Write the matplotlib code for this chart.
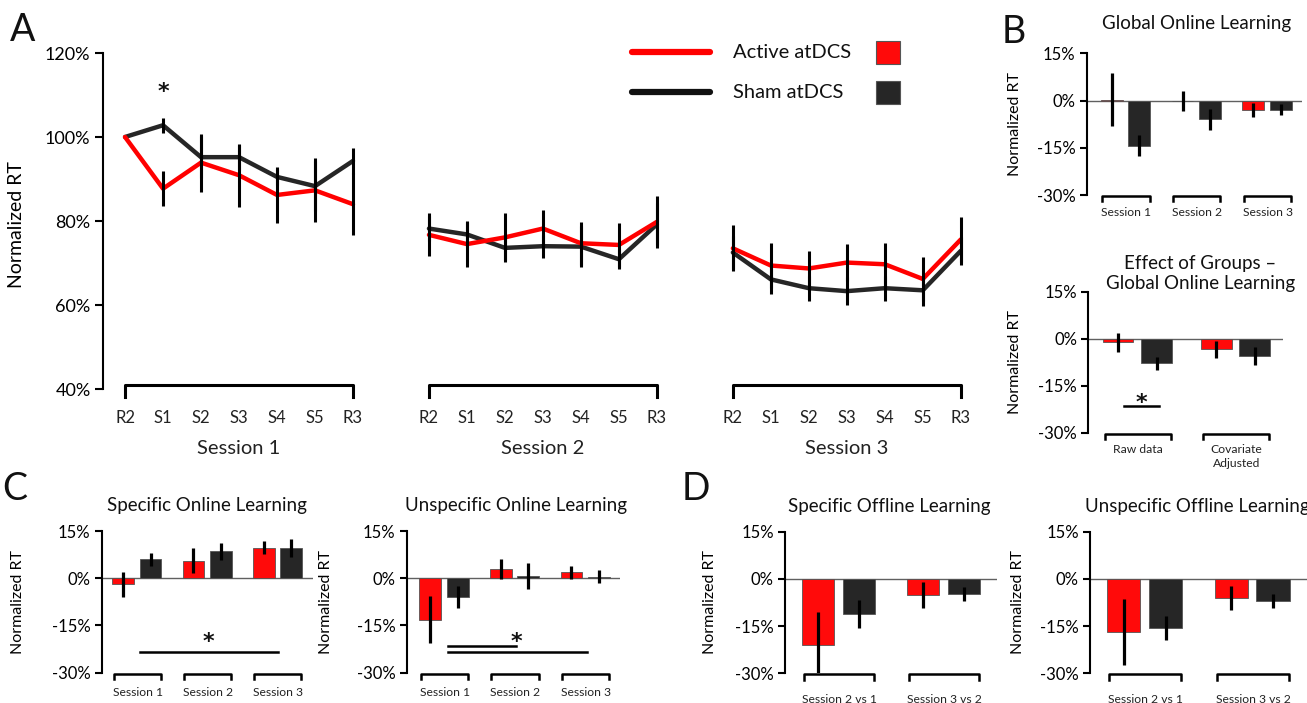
import numpy as np
import matplotlib
matplotlib.use("Agg")
import matplotlib.pyplot as plt
import matplotlib.transforms as mtransforms

plt.rcParams['font.family'] = ['Lato', 'DejaVu Sans']

RED = '#ff0000'
DARK = '#262626'

# ---- Panel A data (normalized RT, %) ----
points = ['R2', 'S1', 'S2', 'S3', 'S4', 'S5', 'R3']
sessions = ['Session 1', 'Session 2', 'Session 3']

active_s1 = [100, 87.7, 93.9, 90.9, 86.2, 87.3, 84.0]
sham_s1 = [100, 102.8, 95.2, 95.2, 90.5, 88.3, 94.3]
active_s1_err = [0, 4.2, 6.9, 7.5, 6.7, 7.6, 7.4]
sham_s1_err = [0, 1.8, 5.0, 3.0, 2.0, 6.0, 3.2]

active_s2 = [76.7, 74.5, 76.1, 78.2, 74.7, 74.3, 79.8]
sham_s2 = [78.2, 76.8, 73.6, 74.0, 73.9, 70.9, 79.2]
active_s2_err = [5.1, 5.5, 5.8, 4.4, 5.1, 5.3, 6.2]
sham_s2_err = [3.0, 3.0, 3.0, 2.7, 4.9, 2.4, 5.0]

active_s3 = [73.5, 69.4, 68.7, 70.1, 69.7, 66.2, 75.6]
sham_s3 = [72.5, 66.1, 64.0, 63.3, 64.0, 63.5, 72.9]
active_s3_err = [5.5, 5.4, 4.2, 4.4, 5.1, 5.3, 5.4]
sham_s3_err = [4.0, 3.5, 3.0, 3.3, 3.0, 3.7, 3.4]

# ---- Panel B data ----
glob_groups = ['Session 1', 'Session 2', 'Session 3']
glob_active = [0.3, -0.1, -3.0]
glob_active_err = [8.4, 3.2, 2.2]
glob_sham = [-14.3, -6.0, -2.9]
glob_sham_err = [3.3, 3.3, 1.75]

eff_groups = ['Raw data', 'Covariate\nAdjusted']
eff_active = [-1.2, -3.3]
eff_active_err = [3.0, 2.7]
eff_sham = [-7.8, -5.4]
eff_sham_err = [2.1, 2.9]

# ---- Panel C data ----
spec_on_active = [-1.9, 5.6, 9.7]
spec_on_active_err = [4.0, 4.0, 2.1]
spec_on_sham = [6.0, 8.5, 9.7]
spec_on_sham_err = [2.1, 2.65, 2.9]

unspec_on_active = [-13.2, 3.0, 1.9]
unspec_on_active_err = [7.4, 3.1, 2.1]
unspec_on_sham = [-6.0, 0.7, 0.5]
unspec_on_sham_err = [3.4, 4.0, 2.0]

# ---- Panel D data ----
off_groups = ['Session 2 vs 1', 'Session 3 vs 2']
spec_off_active = [-20.9, -5.1]
spec_off_active_err = [10.3, 4.2]
spec_off_sham = [-11.1, -4.8]
spec_off_sham_err = [4.5, 2.3]

unspec_off_active = [-16.9, -6.1]
unspec_off_active_err = [10.4, 3.9]
unspec_off_sham = [-15.6, -6.9]
unspec_off_sham_err = [3.9, 2.2]

fig = plt.figure(figsize=(13.07, 7.03), dpi=100)


def star(ax, x, y):
    ax.text(x, y, '*', ha='center', va='center', fontsize=16, fontweight='bold',
            family='DejaVu Sans', color='#111111')


def bar_panel(rect, groups, act, act_err, sham, sham_err, xlim, title, title_x, title_y,
              ylab_x, label_y, label_size=8.7):
    ax = fig.add_axes(rect)
    x = np.arange(len(groups))
    off, w = 0.195, 0.31
    ax.bar(x - off, act, w, color='#ff0a0a', edgecolor='#555555', linewidth=0.6, zorder=2)
    ax.bar(x + off, sham, w, color=DARK, edgecolor='#555555', linewidth=0.6, zorder=2)
    ax.errorbar(x - off, act, yerr=act_err, fmt='none', ecolor='black', elinewidth=2.3, capsize=0, zorder=3)
    ax.errorbar(x + off, sham, yerr=sham_err, fmt='none', ecolor='black', elinewidth=2.3, capsize=0, zorder=3)
    ax.axhline(0, color='#606060', lw=1, zorder=1)
    ax.set_xlim(xlim)
    ax.set_ylim(-30, 15)
    ax.set_yticks([15, 0, -15, -30])
    ax.set_yticklabels(['15%', '0%', '-15%', '-30%'], fontsize=12)
    ax.set_xticks([])
    for s in ['top', 'right', 'bottom']:
        ax.spines[s].set_visible(False)
    ax.spines['left'].set_linewidth(1.5)
    ax.tick_params(axis='y', direction='out', length=5, width=1.5, pad=3)
    ax.set_ylabel('Normalized RT', fontsize=11.5)
    ax.yaxis.set_label_coords(ylab_x, 0.5)
    trans = mtransforms.blended_transform_factory(ax.transData, ax.transAxes)
    for xi, g in zip(x, groups):
        ax.plot([xi - 0.33, xi - 0.33, xi + 0.34, xi + 0.34], [-0.045, -0.006, -0.006, -0.045],
                color='black', lw=1.8, transform=trans, clip_on=False)
        ax.text(xi + 0.01, label_y, g, transform=trans, ha='center', va='top', fontsize=label_size,
                color='#222222', linespacing=1.3)
    ax.text(title_x, title_y, title, transform=trans, ha='center', va='center', fontsize=13.5,
            color='#111111', linespacing=1.25)
    return ax


# ---- Panel A ----
axA = fig.add_axes([103 / 1307, 1 - 389 / 703, 876.8 / 1307, 336 / 703])
act_sets = [(active_s1, active_s1_err), (active_s2, active_s2_err), (active_s3, active_s3_err)]
sham_sets = [(sham_s1, sham_s1_err), (sham_s2, sham_s2_err), (sham_s3, sham_s3_err)]
tA = mtransforms.blended_transform_factory(axA.transData, axA.transAxes)
xticks, xlabels = [], []
for k in range(3):
    xs = np.arange(7) + 8 * k
    sv, se = sham_sets[k]
    av, ae = act_sets[k]
    axA.plot(xs, sv, color=DARK, lw=3.2, zorder=2, solid_capstyle='round')
    axA.plot(xs, av, color=RED, lw=3.2, zorder=3, solid_capstyle='round')
    axA.errorbar(xs, sv, yerr=se, fmt='none', ecolor='black', elinewidth=2.2, capsize=0, zorder=4)
    axA.errorbar(xs, av, yerr=ae, fmt='none', ecolor='black', elinewidth=2.2, capsize=0, zorder=4)
    xticks += list(xs)
    xlabels += points
    axA.plot([xs[0], xs[0], xs[-1], xs[-1]], [-0.025, 0.012, 0.012, -0.025], color='black', lw=2.2,
             transform=tA, clip_on=False)
    axA.text(xs[3], -0.176, sessions[k], transform=tA, ha='center', va='center', fontsize=14.5,
             color='#222222')
star(axA, 1, 110.6)
axA.set_xlim(-0.58, 22.5)
axA.set_ylim(40, 120)
axA.set_yticks([40, 60, 80, 100, 120])
axA.set_yticklabels(['40%', '60%', '80%', '100%', '120%'], fontsize=13)
axA.set_xticks(xticks)
axA.set_xticklabels(xlabels, fontsize=12)
axA.tick_params(axis='x', length=0, pad=15, colors='#222222')
axA.tick_params(axis='y', direction='out', length=6, width=1.5, pad=3)
for s in ['top', 'right', 'bottom']:
    axA.spines[s].set_visible(False)
axA.spines['left'].set_linewidth(1.5)
axA.set_ylabel('Normalized RT', fontsize=14)
axA.yaxis.set_label_coords(-0.089, 0.49)

# legend (lines, labels and bar swatches)
leg_names = ['Active atDCS', 'Sham atDCS']
leg_colors = [RED, '#111111']
leg_sw = ['#ff0a0a', DARK]
for i, yl in enumerate([1.002, 0.883]):
    axA.plot([0.603, 0.692], [yl, yl], color=leg_colors[i], lw=4.5, transform=axA.transAxes,
             clip_on=False, solid_capstyle='round')
    axA.text(0.7185, yl, leg_names[i], transform=axA.transAxes, ha='left', va='center', fontsize=14.5,
             color='#111111')
    axA.add_patch(plt.Rectangle((0.8816, yl - 0.034), 0.0274, 0.068, transform=axA.transAxes,
                                facecolor=leg_sw[i], edgecolor='#555555', lw=0.8, clip_on=False))

# ---- Panel B ----
bar_panel([1086.7 / 1307, 1 - 195 / 703, 215 / 1307, 141.7 / 703], glob_groups, glob_active, glob_active_err,
          glob_sham, glob_sham_err, (-0.55, 2.49), 'Global Online Learning', 1.0, 1.207, -0.302, -0.083)
axB2 = bar_panel([1088.3 / 1307, 1 - 432.7 / 703, 194.4 / 1307, 141 / 703], eff_groups, eff_active,
                 eff_active_err, eff_sham, eff_sham_err, (-0.50, 1.48),
                 'Effect of Groups \u2013\nGlobal Online Learning', 0.64, 1.13, -0.343, -0.083)
axB2.plot([-0.135, 0.22], [-21.6, -21.6], color='black', lw=1.8)
star(axB2, 0.04, -20.4)

# ---- Panel C ----
axC1 = bar_panel([101.7 / 1307, 1 - 672.7 / 703, 211 / 1307, 141.7 / 703], glob_groups, spec_on_active,
                 spec_on_active_err, spec_on_sham, spec_on_sham_err, (-0.50, 2.50),
                 'Specific Online Learning', 1.0, 1.183, -0.363, -0.104)
axC1.plot([0.05, 2.01], [-23.3, -23.3], color='black', lw=1.8)
star(axC1, 1.02, -20.3)

axC2 = bar_panel([406.7 / 1307, 1 - 672.7 / 703, 213.1 / 1307, 141.7 / 703], glob_groups, unspec_on_active,
                 unspec_on_active_err, unspec_on_sham, unspec_on_sham_err, (-0.53, 2.49),
                 'Unspecific Online Learning', 1.02, 1.183, -0.346, -0.104)
axC2.plot([0.05, 1.02], [-21.5, -21.5], color='black', lw=1.8)
axC2.plot([0.05, 2.02], [-23.3, -23.3], color='black', lw=1.8)
star(axC2, 1.02, -20.3)

# ---- Panel D ----
bar_panel([784.9 / 1307, 1 - 673.3 / 703, 212 / 1307, 141.6 / 703], off_groups, spec_off_active,
          spec_off_active_err, spec_off_sham, spec_off_sham_err, (-0.51, 1.506),
          'Specific Offline Learning', 0.48, 1.177, -0.320, -0.146)
bar_panel([1089.9 / 1307, 1 - 673.3 / 703, 217 / 1307, 141.6 / 703], off_groups, unspec_off_active,
          unspec_off_active_err, unspec_off_sham, unspec_off_sham_err, (-0.51, 1.51),
          'Unspecific Offline Learning', 0.49, 1.177, -0.299, -0.146)

# panel letters
for lab, xp, yp in [('A', 10, 41), ('B', 1002, 43), ('C', 2, 500), ('D', 682, 500)]:
    fig.text(xp / 1307, 1 - yp / 703, lab, fontsize=27, ha='left', va='baseline', color='#111111')

fig.savefig('out.png', dpi=100)
